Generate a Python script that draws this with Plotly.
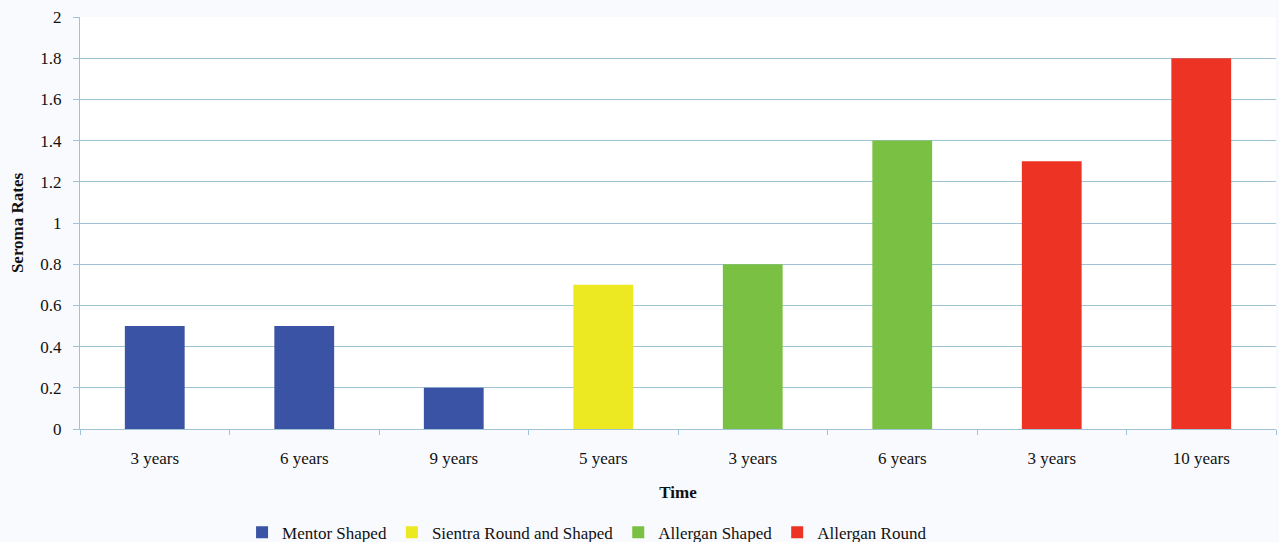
import plotly.graph_objects as go

tick_labels = ["3 years", "6 years", "9 years", "5 years", "3 years", "6 years", "3 years", "10 years"]

series_names = ["Mentor Shaped", "Sientra Round and Shaped", "Allergan Shaped", "Allergan Round"]
series_positions = [[0, 1, 2], [3], [4, 5], [6, 7]]
series_values = [[0.5, 0.5, 0.2], [0.7], [0.8, 1.4], [1.3, 1.8]]
series_colors = ["#3A53A4", "#ECE822", "#7AC143", "#EC3324"]

FONT = "Liberation Serif"
GRID = "#9DC3D4"

fig = go.Figure()
for name, xs, ys, col in zip(series_names, series_positions, series_values, series_colors):
    fig.add_trace(go.Bar(x=xs, y=ys, name=name, width=0.4,
                         marker=dict(color=col, line=dict(width=0))))

fig.update_layout(
    width=1279, height=542,
    autosize=False,
    margin=dict(l=80, r=3, t=17, b=113, autoexpand=False),
    paper_bgcolor="#F9FAFD",
    plot_bgcolor="#FFFFFF",
    font=dict(family=FONT, size=16, color="#111111"),
    showlegend=True,
    legend=dict(orientation="h", x=0.459, xanchor="center", xref="container",
                y=0.017, yanchor="middle", yref="container",
                font=dict(size=17, family=FONT), itemwidth=30,
                traceorder="normal", bgcolor="rgba(0,0,0,0)"),
)
fig.update_xaxes(
    range=[-0.5, 7.5],
    tickmode="array", tickvals=list(range(len(tick_labels))), ticktext=tick_labels,
    ticks="", showgrid=False, zeroline=False,
    showline=True, linecolor=GRID, linewidth=1,
    ticklabelstandoff=14,
    tickfont=dict(size=17, family=FONT),
    minor=dict(tickmode="array", tickvals=[i - 0.5 for i in range(len(tick_labels) + 1)],
               ticks="outside", ticklen=5, tickcolor=GRID, showgrid=False),
    title=dict(text="<b>Time</b>", font=dict(size=17, family=FONT), standoff=18),
)
fig.update_yaxes(
    range=[0, 2], dtick=0.2, tick0=0,
    showgrid=True, gridcolor=GRID, gridwidth=1, zeroline=False,
    showline=True, linecolor=GRID, linewidth=1,
    ticks="outside", ticklen=6, tickcolor=GRID,
    ticklabelstandoff=8,
    tickfont=dict(size=17, family=FONT),
    title=dict(text="<b>Seroma Rates</b>", font=dict(size=17, family=FONT), standoff=12),
)

fig.write_html("out.html", config={"displayModeBar": False},
               post_script="document.body.style.margin='0';document.body.style.overflow='hidden';")
